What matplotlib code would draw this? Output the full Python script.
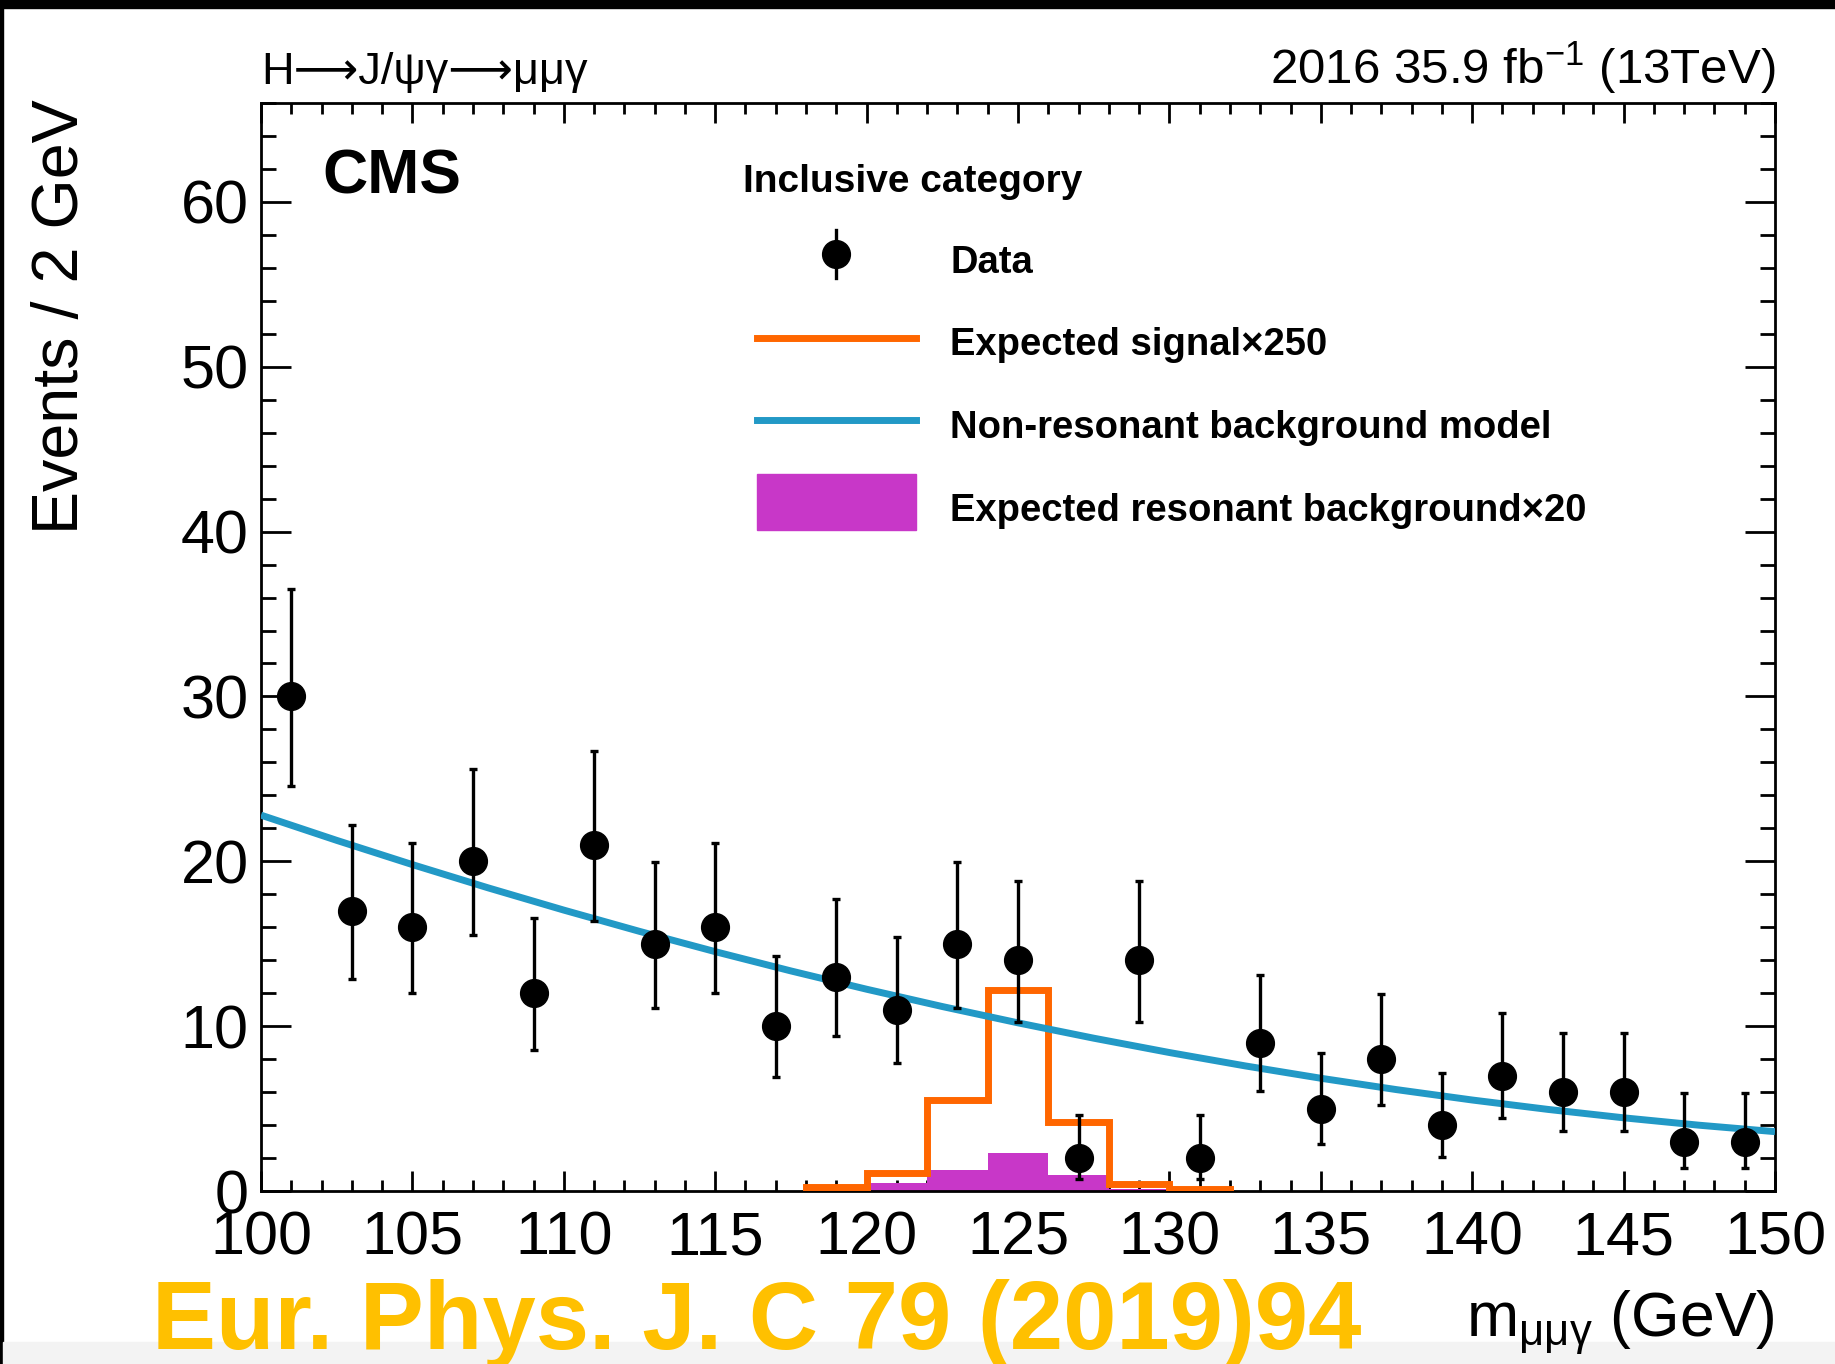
import matplotlib
matplotlib.use('Agg')
import matplotlib.pyplot as plt
from matplotlib.patches import Rectangle
from matplotlib.lines import Line2D
from matplotlib.ticker import MultipleLocator

plt.rcParams['font.family'] = ['Liberation Sans', 'DejaVu Sans']
plt.rcParams['mathtext.fontset'] = 'custom'
plt.rcParams['mathtext.rm'] = 'Liberation Sans'
plt.rcParams['mathtext.it'] = 'Liberation Sans:italic'
plt.rcParams['mathtext.bf'] = 'Liberation Sans:bold'

# ---------------- data ----------------
bin_centers = [101, 103, 105, 107, 109, 111, 113, 115, 117, 119, 121, 123, 125,
               127, 129, 131, 133, 135, 137, 139, 141, 143, 145, 147, 149]
data_counts = [30, 17, 16, 20, 12, 21, 15, 16, 10, 13, 11, 15, 14,
               2, 14, 2, 9, 5, 8, 4, 7, 6, 6, 3, 3]
err_low = [5.45, 4.13, 4.00, 4.48, 3.42, 4.60, 3.87, 4.00, 3.11, 3.58, 3.26, 3.87, 3.73,
           1.29, 3.73, 1.29, 2.94, 2.16, 2.77, 1.91, 2.58, 2.38, 2.38, 1.63, 1.63]
err_high = [6.51, 5.23, 5.10, 5.58, 4.56, 5.70, 4.97, 5.10, 4.27, 4.70, 4.42, 4.97, 4.83,
            2.64, 4.83, 2.64, 4.11, 3.38, 3.95, 3.16, 3.77, 3.58, 3.58, 2.92, 2.92]

hist_edges = [118, 120, 122, 124, 126, 128, 130, 132]
signal_x250 = [0.25, 1.1, 5.5, 12.2, 4.2, 0.45, 0.15]
res_bkg_x20 = [0.05, 0.5, 1.25, 2.33, 1.0, 0.12, 0.05]

bkg_mass = [100, 102.5, 105, 107.5, 110, 112.5, 115, 117.5, 120, 122.5, 125,
            127.5, 130, 132.5, 135, 137.5, 140, 142.5, 145, 147.5, 150]
bkg_model = [22.8, 21.27, 19.80, 18.39, 17.04, 15.75, 14.52, 13.35, 12.24, 11.19, 10.2,
             9.27, 8.40, 7.59, 6.84, 6.15, 5.52, 4.95, 4.44, 3.99, 3.6]

x_ticks = [100, 105, 110, 115, 120, 125, 130, 135, 140, 145, 150]
y_ticks = [0, 10, 20, 30, 40, 50, 60]

# ---------------- style ----------------
W, H = 1835, 1364
C_SIG = '#FF6600'
C_BKG = '#2299C6'
C_RES = '#C837C8'
C_WM = '#FFC000'


def fx(px):
    return px / W


def fy(py):
    return 1 - py / H


fig = plt.figure(figsize=(W / 100, H / 100), dpi=100)
fig.patch.set_facecolor('white')
# screenshot frame
fig.patches.append(Rectangle((0, fy(8)), 1, 8 / H, transform=fig.transFigure,
                             color='black', zorder=0))
fig.patches.append(Rectangle((0, 0), 3 / W, 1, transform=fig.transFigure,
                             color='black', zorder=0))
fig.patches.append(Rectangle((3 / W, 0), 1, 22 / H, transform=fig.transFigure,
                             color='#f3f3f3', zorder=0))

ax_l, ax_r, ax_t, ax_b = 261, 1775, 103, 1191
ax = fig.add_axes([fx(ax_l), fy(ax_b), (ax_r - ax_l) / W, (ax_b - ax_t) / H])

ax.stairs(res_bkg_x20, hist_edges, fill=True, color=C_RES, linewidth=0, zorder=2)
ax.stairs(signal_x250, hist_edges, color=C_SIG, linewidth=5, baseline=0, zorder=3)
ax.plot(bkg_mass, bkg_model, color=C_BKG, linewidth=5, zorder=4, solid_capstyle='butt')
ax.errorbar(bin_centers, data_counts, yerr=[err_low, err_high], fmt='o', color='black',
            markersize=20, elinewidth=2.4, capsize=2.6, capthick=2.4, zorder=5)

ax.set_xlim(100, 150)
ax.set_ylim(0, 66)
ax.set_xticks(x_ticks)
ax.set_yticks(y_ticks)
ax.xaxis.set_minor_locator(MultipleLocator(1))
ax.yaxis.set_minor_locator(MultipleLocator(2))
ax.tick_params(axis='both', which='both', direction='in', top=True, right=True,
               width=2, labelsize=44)
ax.tick_params(axis='x', which='major', length=14.5, pad=14)
ax.tick_params(axis='x', which='minor', length=8)
ax.tick_params(axis='y', which='major', length=21.5, pad=9)
ax.tick_params(axis='y', which='minor', length=11)
for s in ax.spines.values():
    s.set_linewidth(2)

# axis titles
fig.text(fx(61), fy(99), 'Events / 2 GeV', rotation=90, ha='center', va='top',
         fontsize=46.5)
fig.text(fx(1775), fy(1336), r'm$_{\mathrm{μμγ}}$ (GeV)', ha='right', va='baseline',
         fontsize=45)

# top titles
fig.text(fx(261), fy(84), 'H⟶J/ψγ⟶μμγ', ha='left', va='baseline', fontsize=32.5,
         family=['Liberation Sans', 'DejaVu Sans'])
fig.text(fx(1775), fy(84), r'2016 35.9 fb$^{\mathrm{-1}}$ (13TeV)', ha='right',
         va='baseline', fontsize=35.5)

# CMS label
fig.text(fx(322), fy(177), 'CMS', ha='left', va='center', fontsize=45,
         fontweight='bold')

# legend (drawn manually)
fig.text(fx(743), fy(182), 'Inclusive category', ha='left', va='center',
         fontsize=28, fontweight='bold')
tx = 950
fig.add_artist(Line2D([fx(836), fx(836)], [fy(230), fy(278)], color='black',
                      linewidth=2.4, transform=fig.transFigure))
fig.add_artist(Line2D([fx(836)], [fy(254)], marker='o', markersize=20, color='black',
                      linestyle='none', transform=fig.transFigure))
fig.text(fx(tx), fy(263), 'Data', ha='left', va='center', fontsize=27.5,
         fontweight='bold')
fig.add_artist(Line2D([fx(757), fx(916)], [fy(338), fy(338)], color=C_SIG,
                      linewidth=5, transform=fig.transFigure))
fig.text(fx(tx), fy(345), 'Expected signal×250', ha='left', va='center',
         fontsize=27.5, fontweight='bold')
fig.add_artist(Line2D([fx(757), fx(916)], [fy(420), fy(420)], color=C_BKG,
                      linewidth=5, transform=fig.transFigure))
fig.text(fx(tx), fy(428), 'Non-resonant background model', ha='left', va='center',
         fontsize=27.5, fontweight='bold')
fig.patches.append(Rectangle((fx(757), fy(530)), (916 - 757) / W, (530 - 474) / H,
                             transform=fig.transFigure, color=C_RES))
fig.text(fx(tx), fy(511), 'Expected resonant background×20', ha='left', va='center',
         fontsize=27.5, fontweight='bold')

# journal watermark
fig.text(fx(152), fy(1349), 'Eur. Phys. J. C 79 (2019)94', ha='left', va='baseline',
         fontsize=69, fontweight='bold', color=C_WM)

fig.savefig('out.png', dpi=100)
